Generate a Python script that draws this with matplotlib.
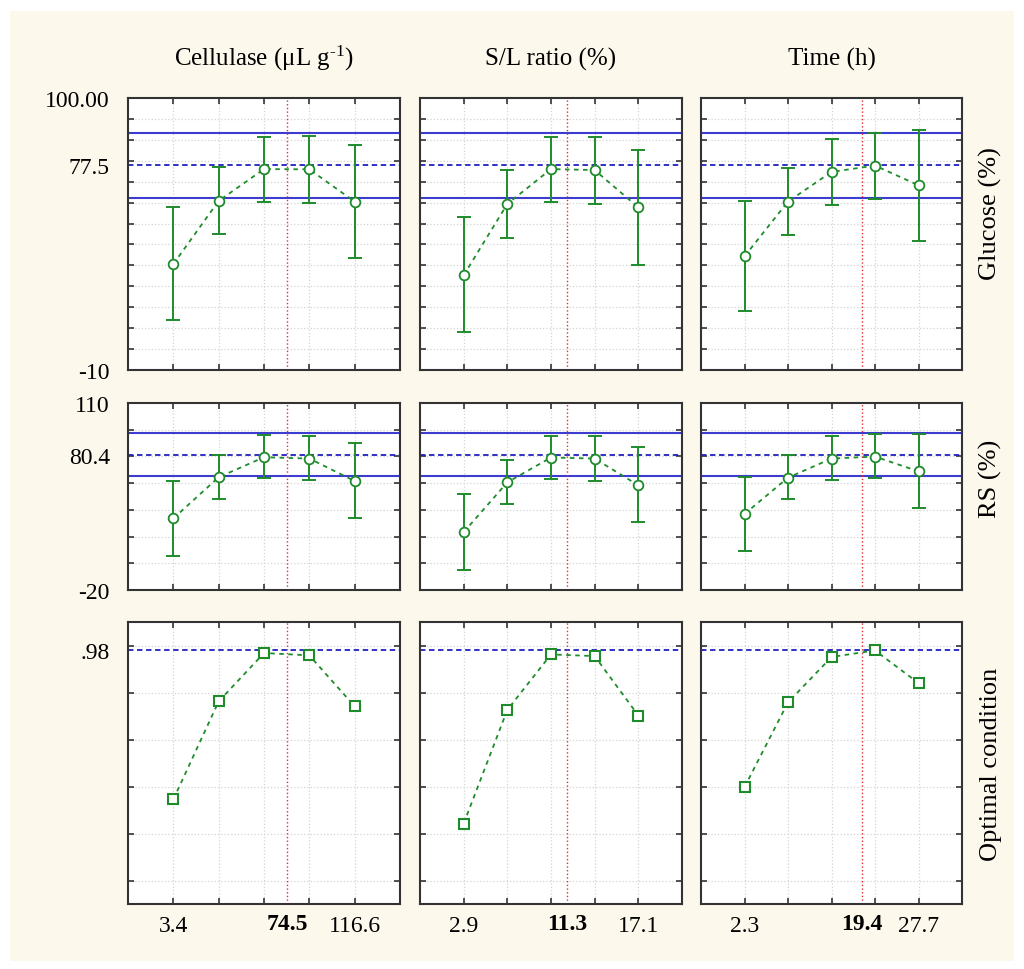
import numpy as np
import matplotlib
matplotlib.use("Agg")
import matplotlib.pyplot as plt
from matplotlib.patches import Rectangle
import matplotlib.transforms as mtrans

plt.rcParams["font.family"] = ["Liberation Serif", "DejaVu Serif"]
plt.rcParams["mathtext.fontset"] = "custom"
plt.rcParams["mathtext.rm"] = "Liberation Serif"
plt.rcParams["mathtext.it"] = "Liberation Serif:italic"

# factor levels (x) and optimum settings
factor_names = [r"Cellulase (μL g$^{\text{-}1}$)", "S/L ratio (%)", "Time (h)"]
cellulase = [3.4, 31.7, 60.0, 88.3, 116.6]
sl_ratio = [2.9, 6.45, 10.0, 13.55, 17.1]
time_h = [2.3, 8.65, 15.0, 21.35, 27.7]
optimum = [74.5, 11.3, 19.4]

# glucose (%) profile: mean, lower, upper
glc_mean = [[35.3, 62.3, 75.9, 75.8, 62.0],
            [30.5, 61.0, 75.9, 75.5, 59.5],
            [38.6, 62.0, 74.7, 77.4, 69.0]]
glc_low = [[11.2, 48.1, 61.8, 61.4, 37.7],
           [6.1, 46.6, 62.0, 61.0, 35.0],
           [15.1, 47.9, 60.7, 63.1, 45.0]]
glc_high = [[59.7, 76.9, 89.8, 90.0, 86.3],
            [55.3, 75.4, 89.8, 89.8, 84.1],
            [62.4, 76.4, 88.9, 91.5, 92.6]]
glc_pred, glc_ci = 77.5, (63.7, 91.5)

# RS (%) profile
rs_mean = [[33.3, 64.0, 78.9, 77.9, 61.2],
           [23.1, 60.2, 78.7, 77.9, 58.0],
           [36.6, 63.7, 77.9, 79.4, 68.4]]
rs_low = [[5.2, 47.5, 63.2, 62.0, 33.6],
          [-5.1, 43.8, 62.5, 61.5, 30.3],
          [9.4, 47.5, 62.2, 63.5, 41.0]]
rs_high = [[61.2, 80.6, 95.6, 94.6, 89.4],
           [51.5, 77.2, 94.8, 94.8, 86.6],
           [64.2, 80.4, 94.6, 96.1, 96.1]]
rs_pred, rs_ci = 80.4, (64.7, 96.8)

# desirability (optimal condition)
desir = [[0.345, 0.762, 0.968, 0.958, 0.741],
         [0.242, 0.726, 0.962, 0.955, 0.702],
         [0.397, 0.758, 0.951, 0.979, 0.840]]
desir_pred = 0.98

levels = [cellulase, sl_ratio, time_h]
first_last = [["3.4", "116.6"], ["2.9", "17.1"], ["2.3", "27.7"]]
opt_labels = ["74.5", "11.3", "19.4"]

W, H = 1024, 970
col_px = [(128, 400), (420, 682), (701, 962)]
row_px = [(99, 371), (404, 591), (623, 905)]
row_names = ["Glucose (%)", "RS (%)", "Optimal condition"]
row_name_y = [0.58, 0.60, 0.5]
row_ylim = [(-10, 106.3), (-20, 119.3), (-0.1, 1.1)]
row_grid = [np.linspace(-10, 106.3, 14)[1:-1], np.linspace(-20, 119.3, 8)[1:-1],
            [0.0, 0.2, 0.4, 0.6, 0.8, 1.0]]
row_ticks = [([-10, 77.5, 106.3], ["-10", "77.5", "100.00"]),
             ([-20, 80.4, 119.3], ["-20", "80.4", "110"]),
             ([0.98], [".98"])]

GREEN = "#1e8c2a"
BLUE = "#3c3cd0"
DBLUE = "#2020c0"
RED = "#e03030"
FS = 17

fig = plt.figure(figsize=(W / 100, H / 100), dpi=100)
fig.patch.set_facecolor("white")
fig.patches.append(Rectangle((10 / W, 1 - 962 / H), 1004 / W, 950 / H,
                             transform=fig.transFigure, facecolor="#fdf8ec",
                             edgecolor="none", zorder=-10))

for r in range(3):
    for c in range(3):
        l, rr = col_px[c]
        t, b = row_px[r]
        ax = fig.add_axes([l / W, 1 - b / H, (rr - l) / W, (b - t) / H])
        x = levels[c]
        step = x[1] - x[0]
        ax.set_xlim(x[0] - step, x[-1] + step)
        ax.set_ylim(*row_ylim[r])

        if r == 0:
            ax.axhline(glc_ci[0], color=BLUE, lw=1.5)
            ax.axhline(glc_ci[1], color=BLUE, lw=1.5)
            ax.axhline(glc_pred, color=DBLUE, lw=1.3, dashes=(3, 2))
            m = np.array(glc_mean[c])
            err = [m - np.array(glc_low[c]), np.array(glc_high[c]) - m]
        elif r == 1:
            ax.axhline(rs_ci[0], color=BLUE, lw=1.5)
            ax.axhline(rs_ci[1], color=BLUE, lw=1.5)
            ax.axhline(rs_pred, color=DBLUE, lw=1.3, dashes=(3, 2))
            m = np.array(rs_mean[c])
            err = [m - np.array(rs_low[c]), np.array(rs_high[c]) - m]
        else:
            ax.axhline(desir_pred, color=DBLUE, lw=1.3, dashes=(3, 2))
            m = np.array(desir[c])
            err = None

        ax.axvline(optimum[c], color=RED, lw=1.0, ls=":")

        if err is not None:
            ax.errorbar(x, m, yerr=err, fmt="none", ecolor=GREEN, elinewidth=1.4,
                        capsize=5, capthick=1.4, zorder=4)
            ax.plot(x, m, color=GREEN, lw=1.3, dashes=(2.5, 2.5), zorder=4)
            ax.plot(x, m, "o", ms=7, mfc="white", mec=GREEN, mew=1.3, zorder=5)
        else:
            ax.plot(x, m, color=GREEN, lw=1.3, dashes=(2.5, 2.5), zorder=4)
            ax.plot(x, m, "s", ms=7.5, mfc="white", mec=GREEN, mew=1.5, zorder=5)

        # grid + ticks
        ax.set_xticks(x)
        ax.set_yticks(row_grid[r], minor=True)
        ax.set_yticks(row_ticks[r][0])
        ax.grid(True, axis="x", which="major", color="#d4d4d4", ls=":", lw=0.9)
        ax.grid(True, axis="y", which="minor", color="#d4d4d4", ls=":", lw=0.9)
        ax.tick_params(axis="x", which="major", direction="in", top=True, bottom=True,
                       length=4, width=1.2, color="#333333", labelsize=FS, pad=8)
        ax.tick_params(axis="y", which="minor", direction="in", left=True, right=True,
                       length=4, width=1.2, color="#333333")
        ax.tick_params(axis="y", which="major", length=0, labelsize=FS, pad=13)
        if c == 0:
            ax.set_yticklabels(row_ticks[r][1])
        else:
            ax.set_yticklabels([])
        if r == 2:
            ax.set_xticklabels([first_last[c][0], "", "", "", first_last[c][1]])
            tr = mtrans.blended_transform_factory(ax.transData, ax.transAxes)
            ax.text(optimum[c], -0.033, opt_labels[c], transform=tr, ha="center",
                    va="top", fontsize=FS, fontweight="bold")
        else:
            ax.set_xticklabels([])
        for s in ax.spines.values():
            s.set_color("#333333")
            s.set_linewidth(1.5)
        ax.set_facecolor("white")

        if r == 0:
            ax.set_title(factor_names[c], fontsize=FS + 1, pad=24)
        if c == 2:
            ax.text(1.11, row_name_y[r], row_names[r], transform=ax.transAxes,
                    rotation=90, ha="center", va="center", fontsize=FS + 2)

fig.savefig("out.png", dpi=100, facecolor=fig.get_facecolor())
